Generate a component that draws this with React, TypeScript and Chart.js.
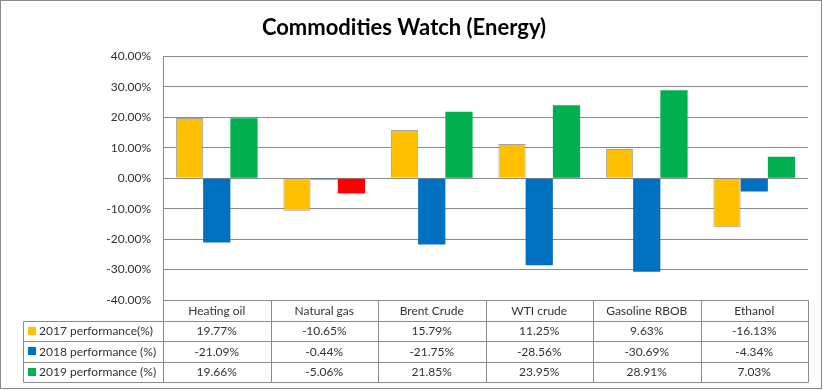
import React, { useEffect, useRef } from "react";
import { Chart, registerables } from "chart.js";

Chart.register(...registerables);

const categories = ["Heating oil", "Natural gas", "Brent Crude", "WTI crude", "Gasoline RBOB", "Ethanol"];
const seriesNames = ["2017 performance(%)", "2018 performance (%)", "2019 performance (%)"];
const perf2017 = [19.77, -10.65, 15.79, 11.25, 9.63, -16.13];
const perf2018 = [-21.09, -0.44, -21.75, -28.56, -30.69, -4.34];
const perf2019 = [19.66, -5.06, 21.85, 23.95, 28.91, 7.03];
const seriesColors = ["#FFC000", "#0070C0", "#00B050"];
const natGas2019Color = "#FF0000";

const FONT = "Lato, 'Open Sans', sans-serif";
const LINE = "#8a8a8a";
const TEXT = "#333333";

const tablePlugin = {
  id: "dataTable",
  afterDraw(chart: any) {
    const ctx = chart.ctx;
    const area = chart.chartArea;
    const n = categories.length;
    const colW = (area.right - area.left) / n;
    const rowH = 20.5;
    const top = area.bottom;
    const legendLeft = 23;
    const rows = [perf2017, perf2018, perf2019];
    ctx.save();
    ctx.strokeStyle = LINE;
    ctx.lineWidth = 1;
    const crisp = (v: number) => Math.round(v) + 0.5;
    ctx.beginPath();
    ctx.moveTo(crisp(area.left), crisp(top));
    ctx.lineTo(crisp(area.right), crisp(top));
    for (let r = 1; r <= 4; r++) {
      const y = crisp(top + r * rowH);
      ctx.moveTo(crisp(legendLeft), y);
      ctx.lineTo(crisp(area.right), y);
    }
    for (let c = 0; c <= n; c++) {
      const x = crisp(area.left + c * colW);
      ctx.moveTo(x, crisp(top));
      ctx.lineTo(x, crisp(top + 4 * rowH));
    }
    ctx.moveTo(crisp(legendLeft), crisp(top + rowH));
    ctx.lineTo(crisp(legendLeft), crisp(top + 4 * rowH));
    ctx.stroke();

    ctx.fillStyle = TEXT;
    ctx.font = "12px " + FONT;
    ctx.textBaseline = "middle";
    ctx.textAlign = "center";
    for (let c = 0; c < n; c++) {
      const cx = area.left + (c + 0.5) * colW;
      ctx.fillText(categories[c], cx, top + rowH / 2 + 0.5);
      for (let r = 0; r < 3; r++) {
        ctx.fillText(rows[r][c].toFixed(2) + "%", cx, top + (r + 1.5) * rowH + 0.5);
      }
    }
    ctx.textAlign = "left";
    for (let r = 0; r < 3; r++) {
      const cy = top + (r + 1.5) * rowH;
      ctx.fillStyle = seriesColors[r];
      ctx.fillRect(legendLeft + 5, Math.round(cy - 4), 8, 8);
      ctx.fillStyle = TEXT;
      ctx.fillText(seriesNames[r], legendLeft + 16, cy + 0.5);
    }
    ctx.strokeStyle = "#888888";
    ctx.strokeRect(0.5, 0.5, 821, 388);
    ctx.restore();
  },
};

export default function App() {
  const ref = useRef<HTMLCanvasElement | null>(null);
  useEffect(() => {
    if (!ref.current) return;
    const chart = new Chart(ref.current, {
      type: "bar",
      data: {
        labels: categories,
        datasets: [
          {
            label: seriesNames[0],
            data: perf2017,
            backgroundColor: seriesColors[0],
            borderColor: "#A5A5A5",
            borderWidth: 1,
          },
          {
            label: seriesNames[1],
            data: perf2018,
            backgroundColor: seriesColors[1],
            borderWidth: 0,
          },
          {
            label: seriesNames[2],
            data: perf2019,
            backgroundColor: perf2019.map((_, i) => (i === 1 ? natGas2019Color : seriesColors[2])),
            borderWidth: 0,
          },
        ],
      },
      options: {
        responsive: false,
        animation: false,
        devicePixelRatio: 1,
        layout: { padding: { left: 0, right: 15, top: 0, bottom: 90 } },
        datasets: { bar: { categoryPercentage: 0.76, barPercentage: 1 } },
        plugins: {
          legend: { display: false },
          tooltip: { enabled: false },
          title: {
            display: true,
            text: "Commodities Watch (Energy)",
            color: "#000",
            font: { family: FONT, size: 22, weight: "bold" },
            padding: { top: 15, bottom: 15 },
          },
        },
        scales: {
          x: { display: false },
          y: {
            min: -40,
            max: 40,
            ticks: {
              stepSize: 10,
              color: TEXT,
              font: { family: FONT, size: 12 },
              padding: 12,
              callback: (v: any) => Number(v).toFixed(2) + "%",
            },
            grid: { color: LINE, lineWidth: 1, drawTicks: false },
            border: { display: true, color: LINE },
            afterFit: (s: any) => {
              s.width = 163;
            },
          },
        },
      },
      plugins: [tablePlugin],
    });
    return () => chart.destroy();
  }, []);
  return (
    <div style={{ position: "fixed", left: 0, top: 0, width: 823, height: 390, background: "#fff" }}>
      <canvas ref={ref} width={823} height={390} />
    </div>
  );
}
